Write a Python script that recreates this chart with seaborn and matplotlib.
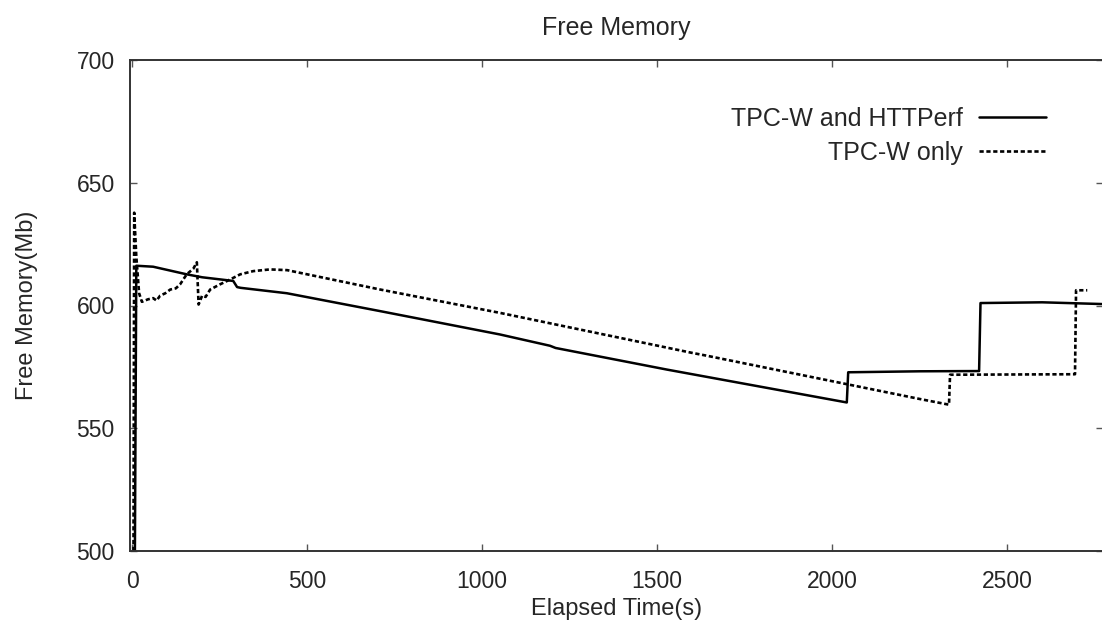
import matplotlib
matplotlib.use("Agg")
import matplotlib.pyplot as plt
import seaborn as sns
import pandas as pd

sns.set_theme(style="ticks")
plt.rcParams['font.family'] = ['Liberation Sans', 'DejaVu Sans']

# TPC-W and HTTPerf (solid)
both_t = [8, 12, 60, 156, 200, 289, 300, 310, 442, 709, 1051, 1194, 1210,
          1528, 2042, 2046, 2251, 2420, 2424, 2600, 2770]
both_mb = [500, 616.2, 615.8, 612.7, 611.5, 610.0, 607.5, 607.2, 605.0, 597.7,
           588.2, 583.6, 582.7, 573.9, 560.5, 572.8, 573.2, 573.3, 601.0,
           601.3, 600.6]

# TPC-W only (dashed)
only_t = [4, 6, 12, 20, 28, 45, 60, 70, 80, 95, 109, 125, 137, 156, 175, 185,
          190, 200, 210, 223, 251, 280, 309, 346, 394, 443, 709, 1051, 1600,
          1640, 2251, 2334, 2337, 2694, 2697, 2729]
only_mb = [500, 637.8, 620, 605, 601.5, 602.5, 603, 602, 604, 605, 606.5, 607,
           608.6, 612.7, 615, 617.6, 600.4, 604, 603.5, 606.5, 608.6, 610.6,
           612.7, 614.0, 614.7, 614.4, 606.5, 597.0, 580.7, 579.6, 561.9,
           559.6, 571.8, 572.0, 606.2, 606.2]

df_both = pd.DataFrame({"t": both_t, "mb": both_mb})
df_only = pd.DataFrame({"t": only_t, "mb": only_mb})

fig = plt.figure(figsize=(11.02, 6.3), dpi=100)
ax = fig.add_axes([130 / 1102, 79 / 630, 973 / 1102, 491 / 630])

sns.lineplot(data=df_both, x="t", y="mb", ax=ax, sort=False, estimator=None,
             color="black", lw=1.8, label="TPC-W and HTTPerf")
sns.lineplot(data=df_only, x="t", y="mb", ax=ax, sort=False, estimator=None,
             color="black", lw=1.9, linestyle=(0, (1.6, 1.0)),
             label="TPC-W only")

ax.set_xlim(-6, 2774)
ax.set_ylim(500, 700)
ax.set_xticks([0, 500, 1000, 1500, 2000, 2500])
ax.set_yticks([500, 550, 600, 650, 700])

fs = 18
ax.set_title("Free Memory", fontsize=fs, pad=18)
ax.set_xlabel("Elapsed Time(s)", fontsize=17, labelpad=3)
ax.set_ylabel("Free Memory(Mb)", fontsize=17, labelpad=28)
ax.tick_params(direction="in", length=5, width=1, color="#555555",
               labelsize=16.5, top=True, right=True)
ax.tick_params(axis="x", pad=14)
ax.tick_params(axis="y", pad=11)
for s in ax.spines.values():
    s.set_color("#333333")
    s.set_linewidth(1.4)

leg = ax.legend(loc="upper right", bbox_to_anchor=(0.965, 0.95),
                frameon=False, markerfirst=False, fontsize=fs,
                handlelength=2.7, handletextpad=0.65, labelspacing=0.4)
for txt in leg.get_texts():
    txt.set_ha("right")

fig.savefig("out.png", dpi=100)
